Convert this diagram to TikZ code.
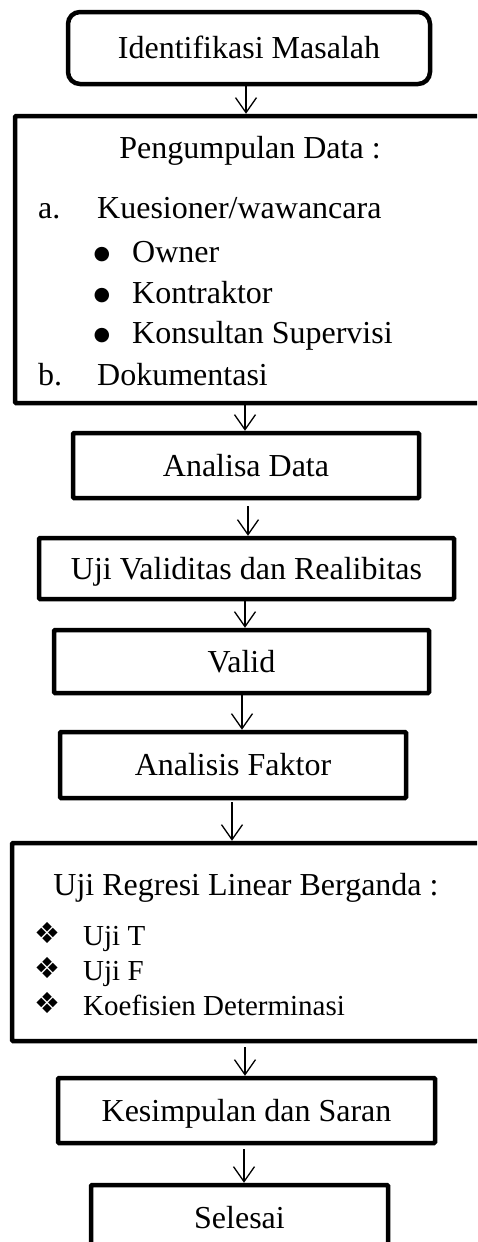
\documentclass[tikz,border=0pt]{standalone}
\usepackage{fontspec}
\setmainfont{Liberation Serif}
\newfontfamily\symfont{DejaVu Sans}
\usetikzlibrary{arrows.meta}
\begin{document}
\begin{tikzpicture}[x=1pt,y=-1pt,
  box/.style={draw, line width=4.5pt, rounded corners=1pt, inner sep=0pt,
    text height=21pt, text depth=0pt, font=\fontsize{32}{38}\selectfont},
  arr/.style={line width=1.3pt, -{Straight Barb[length=15pt,width=21pt]}},
  txt/.style={inner sep=0pt, anchor=base west, font=\fontsize{32}{38}\selectfont},
  itm/.style={inner sep=0pt, anchor=base west, font=\fontsize{29}{34}\selectfont},
  bul/.style={inner sep=0pt, anchor=base, font=\symfont\fontsize{19}{22}\selectfont},
  dia/.style={inner sep=0pt, anchor=center, font=\symfont\fontsize{29}{32}\selectfont},
]
\useasboundingbox (0,0) rectangle (477,1242);
\clip (0,0) rectangle (477,1242);

% boxes
\node[box, rounded corners=12pt, minimum width=362pt, minimum height=72pt] (n1) at (249,48) {Identifikasi Masalah};
\node[box, minimum width=475pt, minimum height=287pt] (n2) at (252.5,259.5) {};
\node[box, minimum width=346pt, minimum height=65pt] (n3) at (246,465.5) {Analisa Data};
\node[box, minimum width=415pt, minimum height=61pt] (n4) at (246.5,568.5) {Uji Validitas dan Realibitas};
\node[box, minimum width=375pt, minimum height=63pt] (n5) at (241.5,661.5) {Valid};
\node[box, minimum width=346pt, minimum height=66pt] (n6) at (233,765) {Analisis Faktor};
\node[box, minimum width=478pt, minimum height=198pt] (n7) at (251,942) {};
\node[box, minimum width=377pt, minimum height=65pt] (n8) at (246.5,1110.5) {Kesimpulan dan Saran};
\node[box, minimum width=297pt, minimum height=65pt] (n9) at (239.5,1217.5) {Selesai};

% box 2 contents
\node[txt, anchor=base] (t2) at (250,158) {Pengumpulan Data :};
\node[txt] (a) at (38,218) {a.};
\node[txt] (aa) at (97,218) {Kuesioner/wawancara};
\node[bul] (b1) at (102,259) {●};
\node[txt] (b1t) at (132,262) {Owner};
\node[bul] (b2) at (102,300) {●};
\node[txt] (b2t) at (132,303) {Kontraktor};
\node[bul] (b3) at (102,340) {●};
\node[txt] (b3t) at (132,343) {Konsultan Supervisi};
\node[txt] (b) at (38,385) {b.};
\node[txt] (bb) at (97,385) {Dokumentasi};

% box 7 contents
\node[txt, anchor=base] (t7) at (246,895) {Uji Regresi Linear Berganda :};
\node[dia] (d1) at (47.5,933) {❖};
\node[itm] (i1) at (83,945) {Uji T};
\node[dia] (d2) at (47.5,968) {❖};
\node[itm] (i2) at (83,980) {Uji F};
\node[dia] (d3) at (47.5,1003) {❖};
\node[itm] (i3) at (83,1015) {Koefisien Determinasi};

% arrows
\draw[arr] ([xshift=-3pt]n1.south) -- ([xshift=-6.5pt]n2.north);
\draw[arr] ([xshift=-7.5pt]n2.south) -- ([xshift=-1pt]n3.north);
\draw[arr] ([xshift=2pt,yshift=-6pt]n3.south) -- ([xshift=1.5pt]n4.north);
\draw[arr] ([xshift=-1.5pt]n4.south) -- ([xshift=3.5pt]n5.north);
\draw[arr] ([xshift=0.5pt]n5.south) -- ([xshift=9pt]n6.north);
\draw[arr] ([xshift=-1pt,yshift=-2pt]n6.south) -- ([xshift=-19pt]n7.north);
\draw[arr] ([xshift=-6pt,yshift=-4pt]n7.south) -- ([xshift=-1.5pt]n8.north);
\draw[arr] ([xshift=-2.5pt,yshift=-4pt]n8.south) -- ([xshift=4.5pt]n9.north);
\end{tikzpicture}
\end{document}
